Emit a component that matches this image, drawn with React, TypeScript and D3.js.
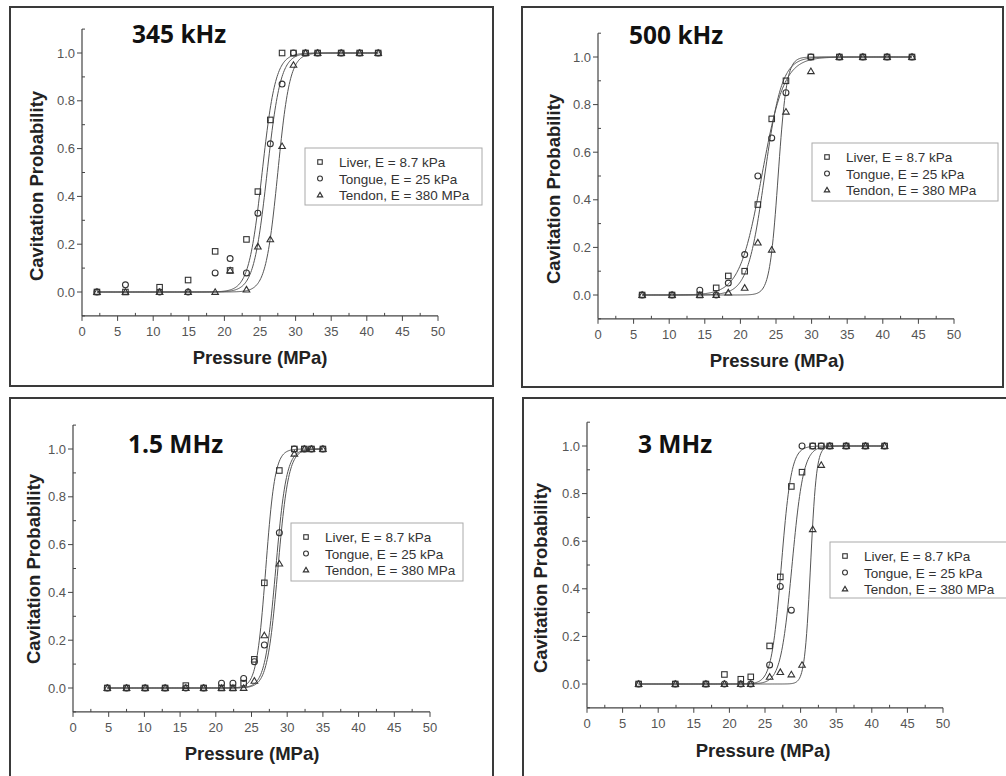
import React from "react";
import * as d3 from "d3";

const W = 1006;
const H = 776;

const tissues = ["Liver, E = 8.7 kPa", "Tongue, E = 25 kPa", "Tendon, E = 380 MPa"];
const xTicks = [0, 5, 10, 15, 20, 25, 30, 35, 40, 45, 50];
const yTicks = [0, 0.2, 0.4, 0.6, 0.8, 1.0];

// 345 kHz
const x345 = [2.1, 6.1, 10.9, 14.9, 18.7, 20.8, 23.1, 24.7, 26.45, 28.1, 29.7, 31.4, 33.1, 36.4, 39.0, 41.6];
const liver345 = [0, 0, 0.02, 0.05, 0.17, 0.09, 0.22, 0.42, 0.72, 1, 1, 1, 1, 1, 1, 1];
const tongue345 = [0, 0.03, 0, 0, 0.08, 0.14, 0.08, 0.33, 0.62, 0.87, 1, 1, 1, 1, 1, 1];
const tendon345 = [0, 0, 0, 0, 0, 0.09, 0.01, 0.19, 0.22, 0.61, 0.95, 1, 1, 1, 1, 1];
// fitted curve: [pressure at 50 %, width]
const fit345 = [[25.3, 0.95], [26.0, 0.95], [27.5, 0.85]];

// 500 kHz
const x500 = [6.2, 10.4, 14.3, 16.6, 18.3, 20.6, 22.45, 24.4, 26.4, 29.9, 33.9, 37.2, 40.6, 44.1];
const liver500 = [0, 0, 0, 0.03, 0.08, 0.1, 0.38, 0.74, 0.9, 1, 1, 1, 1, 1];
const tongue500 = [0, 0, 0.02, 0, 0.05, 0.17, 0.5, 0.66, 0.85, 1, 1, 1, 1, 1];
const tendon500 = [0, 0, 0, 0, 0.01, 0.03, 0.22, 0.19, 0.77, 0.94, 1, 1, 1, 1];
const fit500 = [[23.4, 1.2], [23.0, 1.55], [25.3, 0.6]];

// 1.5 MHz
const x1500 = [4.8, 7.5, 10.1, 12.9, 15.8, 18.3, 20.8, 22.4, 23.9, 25.4, 26.8, 28.9, 31.0, 32.4, 33.4, 35.0];
const liver1500 = [0, 0, 0, 0, 0.01, 0, 0, 0, 0.02, 0.12, 0.44, 0.91, 1, 1, 1, 1];
const tongue1500 = [0, 0, 0, 0, 0, 0, 0.02, 0.02, 0.04, 0.11, 0.18, 0.65, 1, 1, 1, 1];
const tendon1500 = [0, 0, 0, 0, 0, 0, 0, 0, 0, 0.03, 0.22, 0.52, 0.98, 1, 1, 1];
const fit1500 = [[27.0, 0.65], [28.4, 0.75], [28.7, 0.75]];

// 3 MHz
const x3000 = [7.25, 12.4, 16.7, 19.3, 21.6, 23.0, 25.65, 27.15, 28.7, 30.2, 31.7, 32.9, 34.1, 36.4, 39.1, 41.8];
const liver3000 = [0, 0, 0, 0.04, 0.02, 0.03, 0.16, 0.45, 0.83, 0.89, 1, 1, 1, 1, 1, 1];
const tongue3000 = [0, 0, 0, 0, 0, 0, 0.08, 0.41, 0.31, 1, 1, 1, 1, 1, 1, 1];
const tendon3000 = [0, 0, 0, 0, 0, 0, 0.03, 0.05, 0.04, 0.08, 0.65, 0.92, 1, 1, 1, 1];
const fit3000 = [[27.3, 0.7], [28.8, 0.8], [31.4, 0.42]];

const panels = [
  {
    title: "345 kHz", x: x345, series: [liver345, tongue345, tendon345], fits: fit345,
    box: [10, 7, 493, 386], px: [82, 438], py: [292, 53], titlePos: [132, 43],
    legend: [305, 148, 177, 57], yLab: [36, 186], xLab: [260, 364],
  },
  {
    title: "500 kHz", x: x500, series: [liver500, tongue500, tendon500], fits: fit500,
    box: [522, 7, 1003, 387], px: [598, 954], py: [295, 57], titlePos: [629, 44],
    legend: [812, 143, 186, 58], yLab: [553, 189], xLab: [777, 367],
  },
  {
    title: "1.5 MHz", x: x1500, series: [liver1500, tongue1500, tendon1500], fits: fit1500,
    box: [10, 398, 493, 790], px: [73, 430], py: [688, 449], titlePos: [128, 453],
    legend: [291, 523, 172, 58], yLab: [33, 569], xLab: [252, 760],
  },
  {
    title: "3 MHz", x: x3000, series: [liver3000, tongue3000, tendon3000], fits: fit3000,
    box: [523, 398, 1020, 790], px: [587, 943], py: [684, 446], titlePos: [638, 453],
    legend: [830, 542, 180, 56], yLab: [540, 578], xLab: [763, 757],
  },
];

const sigmoid = (p: number, x0: number, s: number) => 1 / (1 + Math.exp(-(p - x0) / s));

const Marker = ({ kind, cx, cy, size = 5.5 }: { kind: number; cx: number; cy: number; size?: number }) => {
  const st = { fill: "none", stroke: "#333", strokeWidth: 1.1 };
  if (kind === 0) return <rect x={cx - size / 2} y={cy - size / 2} width={size} height={size} {...st} />;
  if (kind === 1) return <circle cx={cx} cy={cy} r={size / 2 + 0.2} {...st} />;
  const h = size * 0.95;
  return <path d={`M${cx},${cy - h * 0.62}L${cx + size * 0.6},${cy + h * 0.45}L${cx - size * 0.6},${cy + h * 0.45}Z`} {...st} />;
};

const sans = "Liberation Sans, Arial, sans-serif";

const Panel = ({ p }: { p: any }) => {
  const x = d3.scaleLinear().domain([0, 50]).range(p.px);
  const y = d3.scaleLinear().domain([0, 1]).range(p.py);
  const [bx0, by0, bx1, by1] = p.box;
  const xMin = d3.min(p.x) as number;
  const xMax = d3.max(p.x) as number;
  const line = d3.line<number>().x((d) => x(d));
  const samples = d3.range(xMin, xMax + 0.001, 0.1);
  const xMinor = d3.range(2.5, 50, 5);
  const yMinor = [-0.1, 0.1, 0.3, 0.5, 0.7, 0.9, 1.1];
  const axisY = y(-0.1);
  const axisX = x(0);
  const [lx, ly, lw, lh] = p.legend;
  return (
    <g>
      <rect x={bx0} y={by0} width={bx1 - bx0} height={by1 - by0} fill="white" stroke="#3a3a3a" strokeWidth={2} />
      {/* axes */}
      <line x1={axisX} x2={axisX} y1={y(1.1)} y2={axisY} stroke="#444" strokeWidth={1.2} />
      <line x1={axisX} x2={x(50)} y1={axisY} y2={axisY} stroke="#444" strokeWidth={1.2} />
      {xTicks.map((t) => (
        <g key={"xt" + t}>
          <line x1={x(t)} x2={x(t)} y1={axisY} y2={axisY + 5} stroke="#444" />
          <text x={x(t)} y={axisY + 20} textAnchor="middle" fontSize={13} fill="#555" fontFamily={sans}>{t}</text>
        </g>
      ))}
      {xMinor.map((t) => (
        <line key={"xm" + t} x1={x(t)} x2={x(t)} y1={axisY} y2={axisY - 3} stroke="#444" />
      ))}
      {yTicks.map((t) => (
        <g key={"yt" + t}>
          <line x1={axisX - 5} x2={axisX} y1={y(t)} y2={y(t)} stroke="#444" />
          <text x={axisX - 7} y={y(t) + 4.5} textAnchor="end" fontSize={13} fill="#555" fontFamily={sans}>{t.toFixed(1)}</text>
        </g>
      ))}
      {yMinor.map((t) => (
        <line key={"ym" + t} x1={axisX} x2={axisX + 3} y1={y(t)} y2={y(t)} stroke="#444" />
      ))}
      {/* fitted curves */}
      {p.fits.map((f: number[], i: number) => (
        <path key={"f" + i} d={line.y((d) => y(sigmoid(d, f[0], f[1])))(samples) || ""} fill="none" stroke="#555" strokeWidth={1} />
      ))}
      {/* data */}
      {p.series.map((s: number[], k: number) =>
        s.map((v, i) => <Marker key={k + "-" + i} kind={k} cx={x(p.x[i])} cy={y(v)} />)
      )}
      {/* title */}
      <text x={p.titlePos[0]} y={p.titlePos[1]} fontSize={24.5} fontWeight="bold" fontFamily="Open Sans, sans-serif" fill="#111">{p.title}</text>
      {/* axis labels */}
      <text transform={`translate(${p.yLab[0]},${p.yLab[1]}) rotate(-90)`} textAnchor="middle" dominantBaseline="central" fontSize={18.5} fontWeight="bold" fontFamily={sans} fill="#222">Cavitation Probability</text>
      <text x={p.xLab[0]} y={p.xLab[1]} textAnchor="middle" fontSize={18.5} fontWeight="bold" fontFamily={sans} fill="#222">Pressure (MPa)</text>
      {/* legend */}
      <rect x={lx} y={ly} width={lw} height={lh} fill="white" stroke="#aaa" strokeWidth={1} />
      {tissues.map((t, i) => (
        <g key={"lg" + i}>
          <Marker kind={i} cx={lx + 15} cy={ly + 14 + i * 16.5} size={4.5} />
          <text x={lx + 34} y={ly + 19 + i * 16.5} fontSize={13.5} fill="#333" fontFamily={sans}>{t}</text>
        </g>
      ))}
    </g>
  );
};

export default function App() {
  return (
    <svg width={W} height={H} viewBox={`0 0 ${W} ${H}`} style={{ position: "absolute", left: 0, top: 0, background: "white" }}>
      <rect width={W} height={H} fill="white" />
      {panels.map((p) => (
        <Panel key={p.title} p={p} />
      ))}
    </svg>
  );
}
